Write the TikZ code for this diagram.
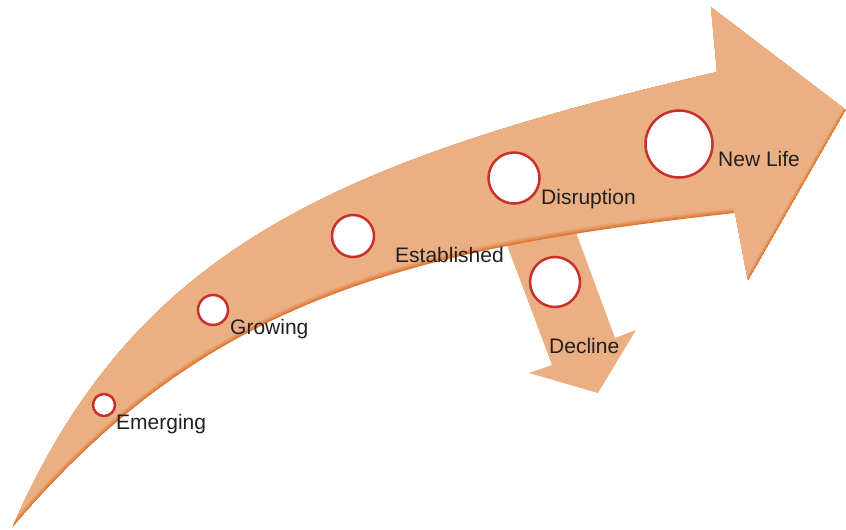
\documentclass[tikz,border=0pt]{standalone}
\usepackage{fontspec}
\setmainfont{Liberation Sans}
\definecolor{peach}{HTML}{EAB084}
\definecolor{rim}{HTML}{DE7630}
\definecolor{ringred}{HTML}{C9302C}
\definecolor{ink}{HTML}{231F20}
\newcommand\mainshape{(12,528) .. controls (132,253) and (327,163) .. (717,72) -- (711,7) -- (846,110) -- (748,281) -- (735,213) .. controls (407,249) and (205.8,299) .. (12,528) -- cycle}
\begin{document}
\begin{tikzpicture}[x=1pt,y=-1pt,
  ring/.style={circle, draw=ringred, line width=2.5pt, fill=white, inner sep=0pt},
  lbl/.style={anchor=base west, inner sep=0pt, text=ink, font=\fontsize{21}{25}\selectfont}]
\useasboundingbox (0,0) rectangle (846,530);
% decline arrow (beneath)
\fill[peach] (490,200) -- (552,365) -- (529,373) -- (598,393) -- (636,330) -- (615,338) -- (564,200) -- cycle;
% main arrow with shaded lower rim
\begin{scope}
  \clip \mainshape;
  \fill[rim] \mainshape;
  \fill[peach!30!rim, shift={(-0.4,-1.2)}] \mainshape;
  \fill[peach!55!rim, shift={(-0.8,-2.4)}] \mainshape;
  \fill[peach!80!rim, shift={(-1.2,-3.6)}] \mainshape;
  \fill[peach, shift={(-1.6,-4.8)}] \mainshape;
\end{scope}
% circles
\node[ring, minimum size=22pt] (cEmerging) at (104,405) {};
\node[ring, minimum size=30pt] (cGrowing) at (213,310) {};
\node[ring, minimum size=42pt] (cEstablished) at (353,236) {};
\node[ring, minimum size=51pt] (cDisruption) at (514,178) {};
\node[ring, minimum size=67pt] (cNewLife) at (679,144) {};
\node[ring, minimum size=50pt] (cDecline) at (555,282) {};
% labels
\node[lbl] (tEmerging) at (116,429) {Emerging};
\node[lbl] (tGrowing) at (230,334) {Growing};
\node[lbl] (tEstablished) at (395,262) {Established};
\node[lbl] (tDisruption) at (541,204) {Disruption};
\node[lbl] (tNewLife) at (718,166) {New Life};
\node[lbl] (tDecline) at (549,353) {Decline};
\end{tikzpicture}
\end{document}
